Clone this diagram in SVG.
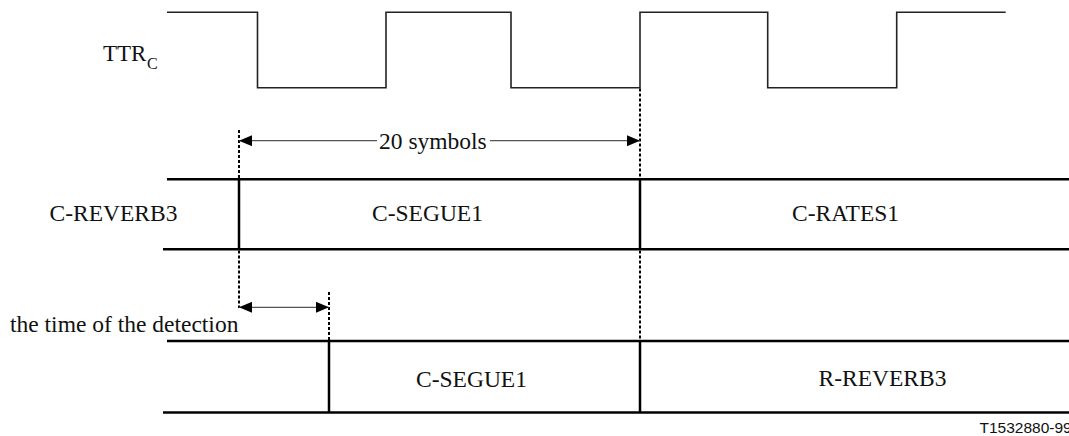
<svg xmlns="http://www.w3.org/2000/svg" width="1069" height="436" viewBox="0 0 1069 436">
<style>
.t{font-family:"Liberation Serif","Times New Roman",serif;font-size:23.5px;fill:#111}
.band{stroke:#000;stroke-width:2.5;fill:none}
.dot{stroke:#000;stroke-width:2;stroke-dasharray:3 2;fill:none}
.arr{stroke:#555;stroke-width:1.2;fill:none}
.wave{stroke:#222;stroke-width:1.6;fill:none}
</style>
<defs>
<marker id="ah" markerWidth="13" markerHeight="11" refX="13" refY="5.5" orient="auto-start-reverse" markerUnits="userSpaceOnUse">
<path d="M0,0 L13,5.5 L0,11 Z" fill="#000"/>
</marker>
</defs>
<rect width="1069" height="436" fill="#fff"/>
<g id="ttr">
<text class="t" x="103" y="61" style="font-size:23px">TTR</text>
<text class="t" x="147" y="68.5" style="font-size:16px">C</text>
<path class="wave" d="M167,12.3 H257.5 V87.7 H386 V12.3 H511 V87.7 H640 V12.3 H767.7 V87.7 H896.7 V12.3 H1005.7"/>
</g>
<g id="row1">
<line class="band" x1="167" y1="179.3" x2="1069" y2="179.3"/>
<line class="band" x1="163" y1="249.3" x2="1069" y2="249.3"/>
<text class="t" x="49.5" y="221">C-REVERB3</text>
<text class="t" x="372" y="221">C-SEGUE1</text>
<text class="t" x="792" y="221">C-RATES1</text>
</g>
<g id="row2">
<line class="band" x1="167" y1="341" x2="1069" y2="341"/>
<line class="band" x1="163" y1="412.5" x2="1069" y2="412.5"/>
<text class="t" x="416" y="386.5">C-SEGUE1</text>
<text class="t" x="818.5" y="386">R-REVERB3</text>
</g>
<g id="connectors">
<line class="band" x1="239" y1="179.3" x2="239" y2="249.3"/>
<line class="band" x1="640" y1="179.3" x2="640" y2="249.3"/>
<line class="band" x1="640" y1="341" x2="640" y2="412.5"/>
<line class="band" x1="329" y1="341" x2="329" y2="412.5"/>
<line class="dot" x1="239" y1="130" x2="239" y2="178"/>
<line class="dot" x1="239" y1="250.5" x2="239" y2="308"/>
<line class="dot" x1="640" y1="88.5" x2="640" y2="178"/>
<line class="dot" x1="640" y1="250.5" x2="640" y2="340"/>
<line class="dot" x1="329" y1="292" x2="329" y2="340"/>
<line class="arr" x1="239" y1="140.7" x2="377" y2="140.7" marker-start="url(#ah)"/>
<line class="arr" x1="490" y1="140.7" x2="640" y2="140.7" marker-end="url(#ah)"/>
<text class="t" x="379" y="148.5">20 symbols</text>
<line class="arr" x1="239" y1="307.3" x2="329" y2="307.3" marker-start="url(#ah)" marker-end="url(#ah)"/>
<text class="t" x="10" y="331.7">the time of the detection</text>
</g>
<text x="979.5" y="433.3" style="font-family:'Liberation Sans',Arial,sans-serif;font-size:15.5px;fill:#111">T1532880-99</text>
</svg>
